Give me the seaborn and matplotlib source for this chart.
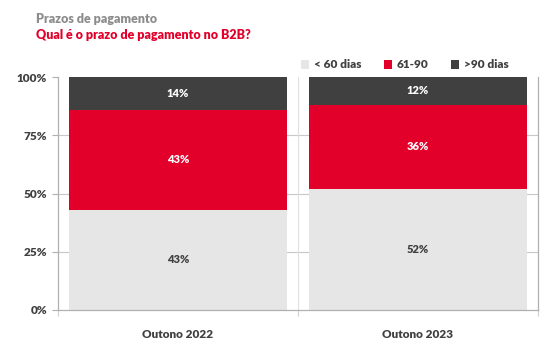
import matplotlib
matplotlib.use("Agg")
import matplotlib.pyplot as plt
import seaborn as sns
import pandas as pd
from matplotlib.patches import Patch

categories = ["Outono 2022", "Outono 2023"]
series_names = ["< 60 dias", "61-90", ">90 dias"]
lt60 = [43, 52]
d61_90 = [43, 36]
gt90 = [14, 12]
y_ticks = [0, 25, 50, 75, 100]
y_tick_labels = ["0%", "25%", "50%", "75%", "100%"]

colors = ["#e6e6e6", "#e2002b", "#404040"]
label_colors = ["#404040", "white", "white"]
font = "Lato"

sns.set_theme(style="white")
plt.rcParams["font.family"] = [font, "DejaVu Sans"]

fig = plt.figure(figsize=(5.52, 3.43), dpi=100)
ax = fig.add_axes([58/552, 1-310/343, 480/552, 233/343])

values = [lt60, d61_90, gt90]
cum = [[0, 0]]
for v in values:
    cum.append([c + x for c, x in zip(cum[-1], v)])

for i in range(len(values) - 1, -1, -1):
    df = pd.DataFrame({"cat": categories, "val": cum[i + 1]})
    sns.barplot(data=df, x="cat", y="val", color=colors[i], width=0.905,
                saturation=1, ax=ax, zorder=2, edgecolor="none")

for i, v in enumerate(values):
    for j, val in enumerate(v):
        mid = cum[i][j] + val / 2
        ax.text(j, mid, f"{val}%", ha="center", va="center", fontsize=8,
                fontweight="heavy", color=label_colors[i], zorder=3)

ax.set_xlim(-0.5, 1.5)
ax.set_ylim(0, 100)
ax.set_yticks(y_ticks)
ax.set_yticklabels(y_tick_labels)
ax.set_xlabel("")
ax.set_ylabel("")
gc = "#c8c8c8"
for yv in [25, 50, 75]:
    ax.axhline(yv, color=gc, lw=0.8, zorder=1)
ax.axvline(0.5, color="#e0e0e0", lw=0.8, zorder=1)
for s in ["left", "bottom", "right"]:
    ax.spines[s].set_color("#b0b0b0")
    ax.spines[s].set_linewidth(0.9)
ax.spines["top"].set_visible(False)
ax.tick_params(axis="y", left=True, length=4.5, width=0.8, color="#b0b0b0",
               labelsize=8.5, labelcolor="#404040", pad=3.5)
ax.tick_params(axis="x", bottom=False, labelsize=8.5, labelcolor="#404040", pad=8)
ax.set_xticks([-0.5, 0.5, 1.5], minor=True)
ax.tick_params(axis="x", which="minor", bottom=True, length=4, width=0.8, color="#d0d0d0")
for lbl in ax.get_xticklabels() + ax.get_yticklabels():
    lbl.set_fontweight("heavy")

fig.text(36/552, 1-19/343, "Prazos de pagamento", fontsize=9, fontweight="heavy",
         color="#8c8c8c", va="center", ha="left")
fig.text(36/552, 1-35/343, "Qual é o prazo de pagamento no B2B?", fontsize=9,
         fontweight="heavy", color="#e2002b", va="center", ha="left")

handles = [Patch(facecolor=c, edgecolor="none") for c in colors]
fig.legend(handles, series_names, loc="center left", bbox_to_anchor=(301/552, 1-65/343),
           ncol=3, frameon=False, handlelength=0.7, handleheight=0.7,
           handletextpad=0.4, columnspacing=1.9, borderaxespad=0, borderpad=0,
           prop={"family": [font, "DejaVu Sans"], "weight": "heavy", "size": 8.5},
           labelcolor="#404040")

fig.savefig("out.png", dpi=100)
